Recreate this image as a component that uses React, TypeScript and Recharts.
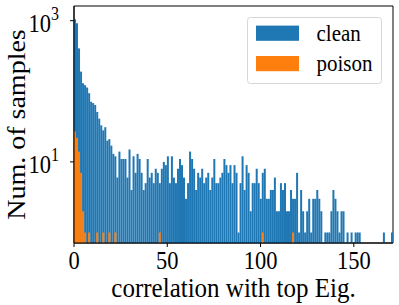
import React from 'react';
import { BarChart, Bar, XAxis, YAxis, Legend, ReferenceArea } from 'recharts';

const X_MAX = 171;
const BIN_COUNT = 158;
const BIN_WIDTH = X_MAX / BIN_COUNT;

const cleanCounts: number[] = [
  1050, 920, 405, 190, 130, 122, 113, 94, 71, 68, 64, 51, 41, 33, 28, 31, 20, 21, 17, 13, 12, 6, 14, 11, 11, 11, 6,
  15, 4, 12, 7, 13, 11, 7, 4, 5, 11, 6, 7, 5, 8, 7, 5, 8, 10, 9, 12, 5, 12, 6, 5, 8, 11, 9, 6, 3, 5, 14, 11, 8, 4, 7,
  6, 8, 5, 6, 7, 4, 6, 11, 5, 5, 6, 7, 11, 9, 7, 9, 5, 9, 7, 1, 5, 12, 4, 9, 7, 2, 5, 5, 8, 5, 3, 7, 8,
  3, 3, 4, 4, 6, 2, 2, 5, 4, 5, 2, 2, 4, 3, 3, 7, 1, 4, 2, 1, 2, 3, 1, 3, 3, 4, 3, 2, 0, 1, 1, 1,
  2, 4, 3, 2, 1, 2, 2, 0, 1, 0, 1, 0, 1, 1, 1, 0, 0, 0, 0, 0, 0, 0, 0, 0, 0, 0, 1, 0, 0, 0, 1,
];

const poisonBins: number[] = [0, 1, 2, 3, 4, 5, 7, 11, 14, 17, 20, 42, 93, 108];
const poisonValues: number[] = [27, 22, 14, 7, 2, 1, 1, 1, 1, 1, 1, 1, 1, 1];

const xTicks: number[] = [0, 50, 100, 150];
const yTicks: number[] = [10, 1000];
const Y_DOMAIN: number[] = [0.71, 1615];
const seriesNames: string[] = ['clean', 'poison'];
const colors: string[] = ['#1f77b4', '#ff7f0e'];

const data = cleanCounts.map((c, i) => {
  const pi = poisonBins.indexOf(i);
  return {
    x: (i + 0.5) * BIN_WIDTH,
    clean: c > 0 ? c : null,
    poison: pi >= 0 ? poisonValues[pi] : null,
  };
});

const FONT = "'Liberation Serif', 'Times New Roman', serif";
const SY = 1.12;

const XTick = (props: any) => {
  const { x, y, payload } = props;
  return (
    <g transform={`translate(${x},${y + 20}) scale(1,${SY})`}>
      <text x={0} y={0} textAnchor="middle" fontFamily={FONT} fontSize={22.5} fill="#000">
        {payload.value}
      </text>
    </g>
  );
};

const YTick = (props: any) => {
  const { x, y, payload } = props;
  const exp = Math.round(Math.log10(payload.value));
  return (
    <g transform={`translate(${x - 9},${y + 11}) scale(1,${SY})`}>
      <text x={0} y={0} textAnchor="end" fontFamily={FONT} fontSize={22.5} fill="#000">
        <tspan>10</tspan>
        <tspan dy={-10.5} fontSize={16}>{exp}</tspan>
      </text>
    </g>
  );
};

const LegendContent = () => (
  <svg width={135} height={67} style={{ display: 'block', overflow: 'visible' }}>
    <rect x={0.5} y={0.5} width={134} height={66} rx={3} fill="rgba(255,255,255,0.8)" stroke="#d6d6d6" strokeWidth={1} />
    {seriesNames.map((n, i) => (
      <g key={n}>
        <rect x={9} y={8.6 + i * 30.4} width={43} height={15.2} fill={colors[i]} />
        <g transform={`translate(69.5,${23.6 + i * 30.4}) scale(1,${SY})`}>
          <text x={0} y={0} fontFamily={FONT} fontSize={21} fill="#000">
            {n}
          </text>
        </g>
      </g>
    ))}
  </svg>
);

export default function App() {
  return (
    <div style={{ position: 'absolute', left: 0, top: 0, width: 399, height: 305, background: '#fff' }}>
      <BarChart
        width={399}
        height={305}
        data={data}
        margin={{ top: 6, right: 6, left: 0, bottom: 0 }}
        barCategoryGap={0}
        barGap={0}
      >
        <XAxis
          xAxisId="x"
          dataKey="x"
          type="number"
          domain={[0, X_MAX]}
          allowDataOverflow
          ticks={xTicks}
          tick={<XTick />}
          tickSize={4}
          height={62}
          stroke="#000"
          tickLine={{ stroke: '#000' }}
          label={{
            content: (p: any) => {
              const vb = p.viewBox;
              return (
                <g transform={`translate(${vb.x + vb.width / 2},${vb.y + 53.5}) scale(1,${SY})`}>
                  <text x={0} y={0} textAnchor="middle" fontFamily={FONT} fontSize={25} fill="#000">
                    correlation with top Eig.
                  </text>
                </g>
              );
            },
          }}
        />
        <XAxis xAxisId="x2" dataKey="x" type="number" domain={[0, X_MAX]} allowDataOverflow hide />
        <YAxis
          yAxisId="y"
          scale="log"
          type="number"
          domain={Y_DOMAIN}
          allowDataOverflow
          ticks={yTicks}
          tick={<YTick />}
          tickSize={4}
          width={74}
          stroke="#000"
          label={{
            content: (p: any) => {
              const vb = p.viewBox;
              const cy = vb.y + vb.height / 2;
              return (
                <g transform={`translate(24.5,${cy}) scale(1,${SY}) rotate(-90)`}>
                  <text x={0} y={0} textAnchor="middle" fontFamily={FONT} fontSize={25} fill="#000">
                    Num. of samples
                  </text>
                </g>
              );
            },
          }}
        />
        <Legend
          layout="vertical"
          align="center"
          verticalAlign="middle"
          content={<LegendContent />}
          wrapperStyle={{ position: 'absolute', left: 247, top: 17, width: 135, height: 67 }}
        />
        <Bar xAxisId="x" yAxisId="y" dataKey="clean" name="clean" fill={colors[0]} isAnimationActive={false} />
        <Bar xAxisId="x2" yAxisId="y" dataKey="poison" name="poison" fill={colors[1]} isAnimationActive={false} />
        <ReferenceArea
          xAxisId="x"
          yAxisId="y"
          x1={0}
          x2={X_MAX}
          y1={Y_DOMAIN[0]}
          y2={Y_DOMAIN[1]}
          fill="none"
          fillOpacity={0}
          stroke="#000"
          strokeWidth={1}
          ifOverflow="visible"
        />
      </BarChart>
    </div>
  );
}
